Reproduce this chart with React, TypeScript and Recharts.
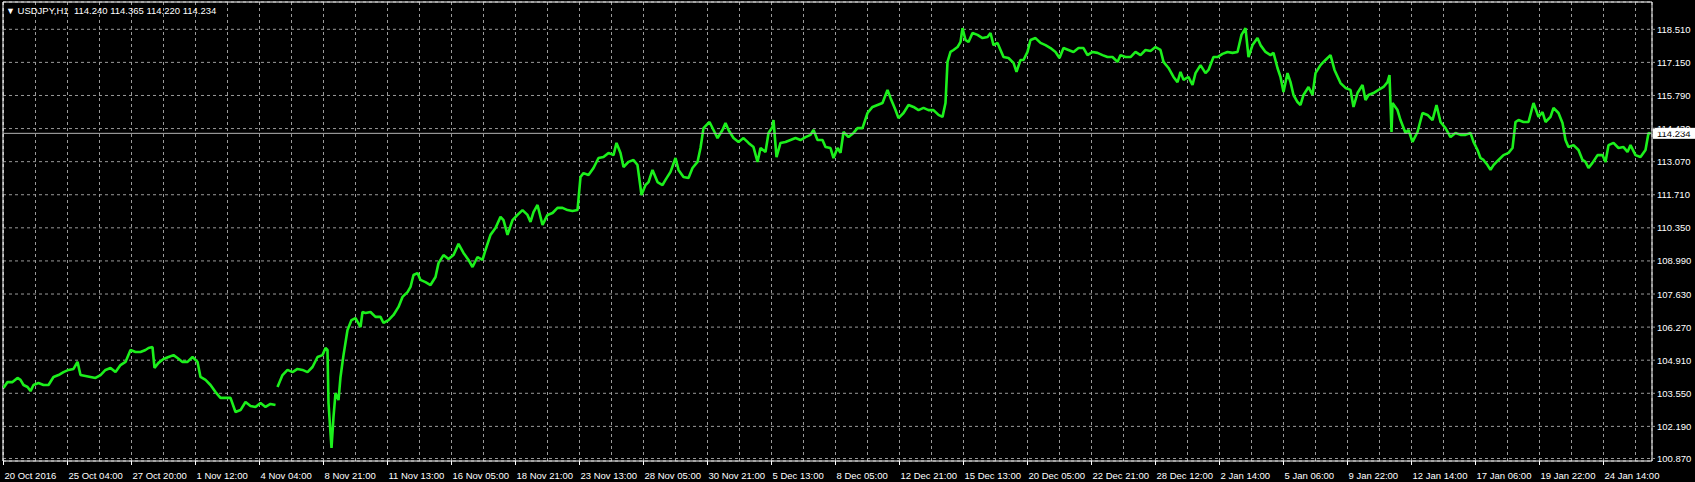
import React from 'react';
import { LineChart, Line, XAxis, YAxis, CartesianGrid, ReferenceLine, ReferenceArea } from 'recharts';

// USDJPY H1 closes, one bar per hour (bar index -> price)
const bars = [
  0, 4, 9, 14, 17, 20, 24, 27, 30, 35, 40, 45, 50, 55, 60, 65, 70, 74, 77, 82, 87, 92, 97, 102, 107, 112, 117, 122,
  127, 132, 137, 142, 145, 149, 151, 155, 160, 165, 170, 174, 179, 184, 189, 194, 197, 202, 207, 212, 217, 222, 227,
  232, 237, 242, 247, 252, 257, 262, 267, 272, 273, 274, 279, 284, 289, 294, 299, 304, 309, 314, 319, 322, 324, 325,
  328, 330, 332, 335, 337, 340, 344, 348, 352, 357, 359, 362, 367, 372, 377, 380, 385, 390, 395, 399, 404, 407, 410,
  414, 417, 422, 427, 432, 435, 440, 445, 450, 455, 460, 465, 469, 474, 479, 482, 487, 492, 497, 500, 504, 509, 514,
  519, 524, 527, 530, 534, 539, 544, 549, 554, 559, 564, 569, 574, 577, 580, 585, 590, 595, 600, 605, 610, 613, 617,
  620, 625, 630, 634, 638, 642, 645, 649, 654, 659, 662, 667, 672, 675, 680, 685, 689, 694, 697, 700, 706, 710, 714,
  719, 722, 725, 730, 735, 740, 745, 750, 754, 757, 762, 765, 769, 770, 773, 777, 782, 787, 792, 797, 802, 807, 810,
  814, 819, 822, 827, 830, 834, 837, 840, 845, 850, 854, 859, 864, 869, 874, 879, 884, 887, 892, 895, 900, 905, 910,
  915, 920, 925, 930, 935, 939, 942, 944, 947, 950, 954, 957, 959, 962, 965, 969, 974, 979, 984, 987, 990, 994, 1000,
  1005, 1010, 1013, 1017, 1020, 1024, 1027, 1032, 1037, 1042, 1047, 1052, 1056, 1060, 1065, 1070, 1075, 1080, 1084,
  1089, 1094, 1099, 1104, 1109, 1114, 1117, 1122, 1127, 1132, 1137, 1142, 1147, 1152, 1157, 1160, 1165, 1170, 1174,
  1177, 1180, 1185, 1189, 1192, 1197, 1202, 1205, 1210, 1214, 1219, 1224, 1229, 1234, 1238, 1242, 1245, 1249, 1254,
  1257, 1262, 1267, 1270, 1274, 1277, 1280, 1284, 1287, 1290, 1294, 1297, 1300, 1305, 1309, 1312, 1317, 1322, 1327,
  1331, 1337, 1342, 1347, 1350, 1354, 1359, 1362, 1365, 1370, 1375, 1380, 1384, 1386, 1388, 1389, 1394, 1397, 1402,
  1405, 1409, 1414, 1419, 1424, 1429, 1433, 1437, 1442, 1447, 1452, 1457, 1462, 1467, 1470, 1474, 1477, 1480, 1484,
  1487, 1490, 1495, 1500, 1505, 1509, 1512, 1515, 1520, 1525, 1530, 1535, 1539, 1542, 1547, 1550, 1555, 1559, 1562,
  1565, 1570, 1575, 1579, 1582, 1585, 1589, 1594, 1599, 1602, 1605, 1610, 1615, 1620, 1624, 1627, 1632, 1637, 1642,
  1645, 1647,
];

const prices: (number | null)[] = [
  103.77, 104.01, 104.01, 104.18, 104.1, 103.89, 103.81, 103.64, 103.89, 103.97, 103.89, 103.89, 104.22, 104.3, 104.42,
  104.51, 104.55, 104.84, 104.3, 104.26, 104.22, 104.18, 104.3, 104.51, 104.59, 104.42, 104.71, 104.84,
  105.33, 105.25, 105.25, 105.33, 105.41, 105.45, 104.59, 104.8, 104.96, 105.04, 105.12, 105.0, 104.84, 104.84, 105.04,
  104.84, 104.22, 104.1, 103.89, 103.6, 103.36, 103.36, 103.36,
  102.78, 102.86, 103.19, 103.03, 102.99, 103.15, 102.99, 103.11, 103.07, null, 103.81, 104.3, 104.51, 104.42, 104.55,
  104.51, 104.42, 104.63, 105.04, 105.12, 105.41, 105.33, 103.15,
  101.3, 102.58, 103.56, 103.27, 104.22, 105.12, 106.15, 106.56, 106.64, 106.27, 106.89, 106.85, 106.89, 106.69, 106.69,
  106.44, 106.56, 106.77, 107.1, 107.51, 107.71, 107.92,
  108.41, 108.49, 108.21, 108.12, 108.0, 108.33, 108.9, 109.23, 109.07, 109.23, 109.69, 109.32, 109.03, 108.74, 109.15,
  109.03, 109.44, 110.06, 110.34, 110.8, 110.67, 110.06, 110.67, 110.88,
  111.08, 110.88, 110.59, 111.0, 111.29, 110.47, 110.88, 110.96, 111.17, 111.17, 111.08, 111.04, 111.08, 112.44, 112.6,
  112.52, 112.81, 113.22, 113.26, 113.43, 113.34, 113.84, 113.43,
  112.85, 113.06, 113.14, 112.93, 111.7, 112.11, 112.23, 112.73, 112.23, 112.11, 112.32, 112.65, 113.22, 112.73, 112.44,
  112.4, 112.81, 113.06, 113.63, 114.45, 114.7, 114.37, 114.04,
  114.37, 114.66, 114.37, 114.04, 113.88, 114.04, 113.84, 113.67, 113.06, 113.63, 113.47, 114.25, 114.49, 114.78, 113.26,
  113.84, 113.88, 113.96, 114.04, 113.96, 114.08, 114.17, 114.37,
  113.96, 113.96, 113.67, 113.63, 113.22, 113.63, 113.43, 114.29, 114.08, 114.25, 114.45, 114.45, 115.07, 115.32, 115.4,
  115.48, 116.02, 115.69, 115.19, 114.86, 115.07, 115.4, 115.32,
  115.19, 115.28, 115.19, 115.19, 114.99, 114.91, 115.48, 117.17, 117.58, 117.66, 117.78, 117.99, 118.56, 118.07, 117.99,
  118.36, 118.28, 118.15, 118.19, 118.36, 117.86, 117.95, 117.37,
  117.33, 117.13, 116.76, 117.25, 117.25, 117.58, 118.07, 118.15, 117.95, 117.86, 117.74, 117.58, 117.33, 117.74, 117.66,
  117.58, 117.74, 117.74, 117.45,
  117.58, 117.54, 117.45, 117.37, 117.37, 117.17, 117.45, 117.37, 117.37, 117.58, 117.45, 117.66, 117.62, 117.78, 117.66,
  117.17, 116.92, 116.55, 116.34,
  116.76, 116.43, 116.55, 116.22, 116.71, 117.04, 116.71, 116.84, 117.37, 117.37, 117.5, 117.58, 117.54, 117.58, 118.28,
  118.56, 117.37, 117.86, 118.15,
  117.86, 117.58, 117.45, 117.54, 116.92, 116.55, 115.93, 116.71, 116.34, 115.81, 115.52, 115.4, 115.81, 116.14, 115.81,
  116.71, 117.04, 117.25, 117.45,
  116.84, 116.3, 116.1, 116.02, 115.32, 115.89, 116.22, 115.6, 115.81, 115.89, 116.02, 116.14, 116.34, 116.63, 114.29,
  115.48, 115.19, 114.78, 114.25,
  114.37, 113.88, 114.29, 115.07, 114.99, 114.78, 115.4, 114.7, 114.45, 114.08, 114.25, 114.17, 114.17, 114.25, 113.88,
  113.55, 113.22, 113.14, 112.93,
  112.73, 112.93, 113.14, 113.34, 113.43, 113.63, 114.7, 114.78, 114.7, 114.7, 115.48, 114.91, 115.11, 114.7, 114.91,
  115.28, 115.07, 114.66, 113.96,
  113.67, 113.75, 113.55, 113.14, 113.06, 112.81, 113.02, 113.34, 113.34, 113.06, 113.75, 113.84, 113.63, 113.67, 113.47,
  113.75, 113.34, 113.26, 113.55,
  114.25, 114.23,
];

// one label every 64 bars
const tickLabels = [
  '20 Oct 2016', '25 Oct 04:00', '27 Oct 20:00', '1 Nov 12:00', '4 Nov 04:00', '8 Nov 21:00', '11 Nov 13:00',
  '16 Nov 05:00', '18 Nov 21:00', '23 Nov 13:00', '28 Nov 05:00', '30 Nov 21:00', '5 Dec 13:00', '8 Dec 05:00',
  '12 Dec 21:00', '15 Dec 13:00', '20 Dec 05:00', '22 Dec 21:00', '28 Dec 12:00', '2 Jan 14:00', '5 Jan 06:00',
  '9 Jan 22:00', '12 Jan 14:00', '17 Jan 06:00', '19 Jan 22:00', '24 Jan 14:00',
];

const priceTicks = [
  100.87, 102.19, 103.55, 104.91, 106.27, 107.63, 108.99, 110.35, 111.71, 113.07, 114.43, 115.79, 117.15, 118.51,
];

const symbol = 'USDJPY,H1';
const ohlc = [114.24, 114.365, 114.22, 114.234];
const lastPrice = 114.234;

const data = bars.map((b, i) => ({ bar: b, price: prices[i] }));

const BAR_STEP = 64;
const gridBars: number[] = [];
for (let b = 0; b < 1649; b += BAR_STEP / 2) gridBars.push(b);

const X_DOMAIN: [number, number] = [-0.5, 1648.5];
const Y_DOMAIN: [number, number] = [100.767, 119.632];

const FONT = '"Liberation Sans", Arial, sans-serif';
const GREEN = '#1cf01c';
const GRID = '#9a9a9a';

const XTick = (props: any) => {
  const { x, y, payload } = props;
  const v = payload.value as number;
  if (v % BAR_STEP !== 0) return null;
  const label = tickLabels[v / BAR_STEP];
  return (
    <g>
      <line x1={x} x2={x} y1={y} y2={y + 4} stroke="#ffffff" />
      <text x={x + 1} y={y + 18} fill="#ffffff" fontSize={9.5} fontFamily={FONT} textAnchor="start">
        {label}
      </text>
    </g>
  );
};

const YTick = (props: any) => {
  const { x, y, payload } = props;
  return (
    <text x={x} y={y + 3.5} fill="#ffffff" fontSize={9.5} fontFamily={FONT} textAnchor="start">
      {(payload.value as number).toFixed(3)}
    </text>
  );
};

const PriceBox = (props: any) => {
  const vb = props.viewBox || {};
  const left = vb.x + vb.width + 1;
  return (
    <g>
      <rect x={left} y={vb.y - 5.5} width={42} height={11} fill="#ffffff" />
      <text x={left + 4} y={vb.y + 3.5} fill="#000000" fontSize={9.5} fontFamily={FONT}>
        {lastPrice.toFixed(3)}
      </text>
    </g>
  );
};

export default function App() {
  return (
    <div style={{ position: 'absolute', left: 0, top: 0, width: 1695, height: 482, background: '#000' }}>
      <LineChart width={1695} height={482} data={data} margin={{ top: 2, right: 0, left: 3, bottom: 0 }}>
        <CartesianGrid stroke={GRID} strokeDasharray="3 3" />
        <XAxis
          dataKey="bar"
          type="number"
          domain={X_DOMAIN}
          allowDataOverflow
          ticks={gridBars}
          interval={0}
          height={21}
          tickSize={0}
          tickMargin={0}
          tickLine={false}
          axisLine={false}
          tick={<XTick />}
        />
        <YAxis
          orientation="right"
          type="number"
          domain={Y_DOMAIN}
          allowDataOverflow
          ticks={priceTicks}
          interval={0}
          width={43}
          tickSize={3}
          tickMargin={2}
          tickLine={{ stroke: GRID }}
          axisLine={false}
          tick={<YTick />}
        />
        <ReferenceArea
          x1={X_DOMAIN[0]}
          x2={X_DOMAIN[1]}
          y1={Y_DOMAIN[0]}
          y2={Y_DOMAIN[1]}
          stroke="#ffffff"
          fill="none"
          ifOverflow="visible"
        />
        <Line
          type="linear"
          dataKey="price"
          stroke={GREEN}
          strokeWidth={2.6}
          strokeLinejoin="bevel"
          dot={false}
          activeDot={false}
          isAnimationActive={false}
        />
        <ReferenceLine y={lastPrice} stroke="#b4b4b4" label={<PriceBox />} />
      </LineChart>
      <div
        style={{
          position: 'absolute',
          left: 6,
          top: 5,
          color: '#fff',
          fontFamily: FONT,
          fontSize: 9.5,
          whiteSpace: 'pre',
          lineHeight: '12px',
        }}
      >
        <span style={{ fontSize: 9 }}>▼</span>
        {' ' + symbol + '  ' + ohlc.map((v) => v.toFixed(3)).join(' ')}
      </div>
    </div>
  );
}
